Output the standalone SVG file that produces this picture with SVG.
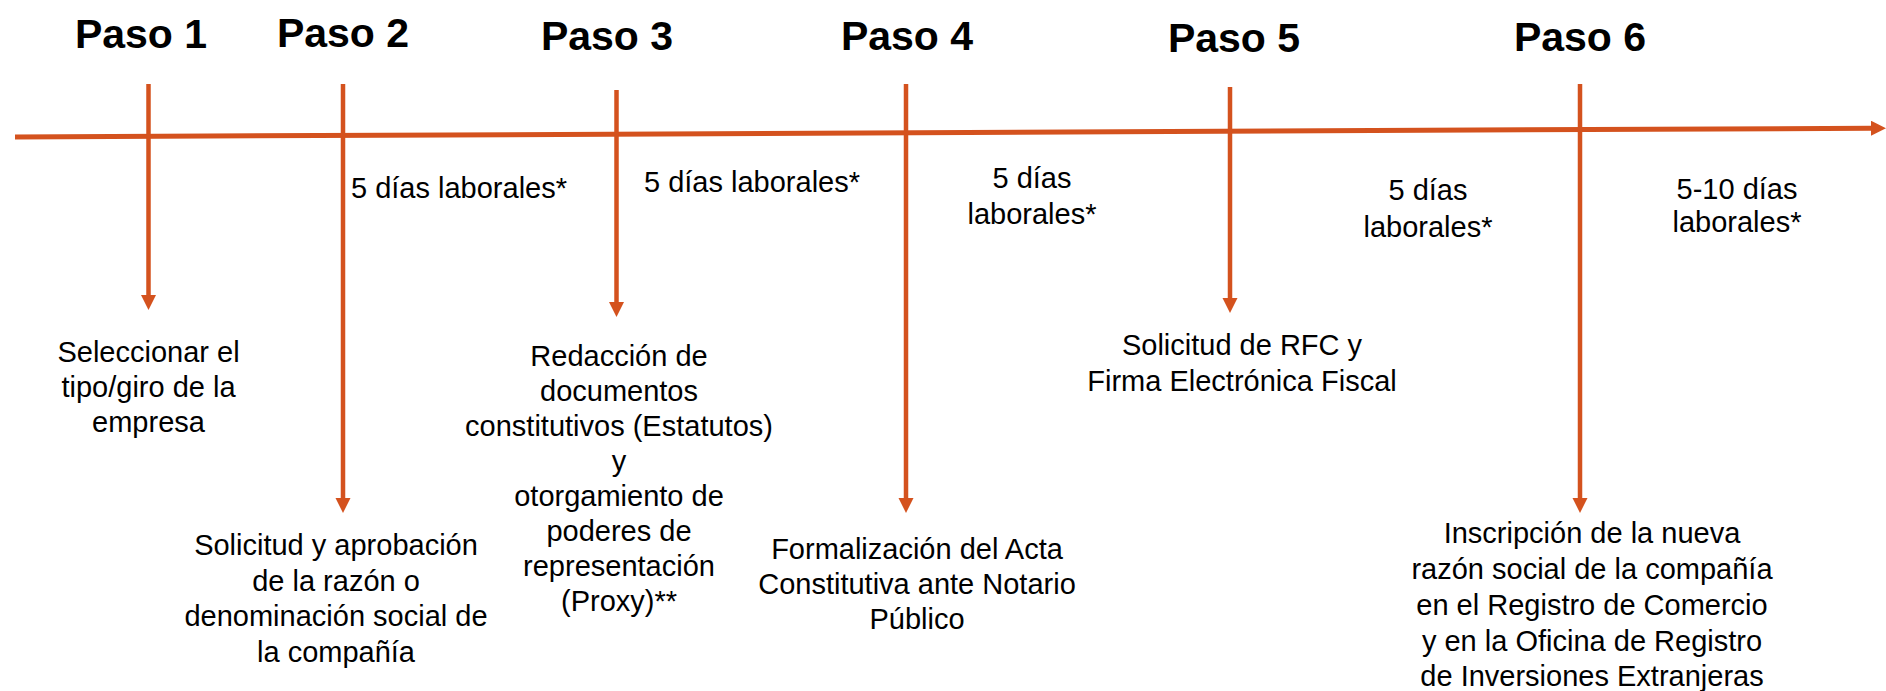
<svg xmlns="http://www.w3.org/2000/svg" width="1886" height="691" viewBox="0 0 1886 691">
<style>
text{font-family:"Liberation Sans",Arial,sans-serif;fill:#000}
.t{font-size:41px;font-weight:bold;text-anchor:middle}
.b{font-size:29px;text-anchor:middle}
.ln{stroke:#D4521E;fill:none}
</style>
<defs>
<marker id="ah" markerUnits="userSpaceOnUse" markerWidth="16" markerHeight="16" refX="1" refY="7.5" orient="auto">
<path d="M0,0 L15,7.5 L0,15 Z" fill="#D4521E"/>
</marker>
</defs>
<rect width="1886" height="691" fill="#fff"/>
<g id="connectors">
<line class="ln" x1="15" y1="137" x2="1872" y2="128.2" stroke-width="5" marker-end="url(#ah)"/>
<line class="ln" x1="148.5" y1="84" x2="148.5" y2="296" stroke-width="4.5" marker-end="url(#ah)"/>
<line class="ln" x1="343" y1="84" x2="343" y2="499" stroke-width="4.5" marker-end="url(#ah)"/>
<line class="ln" x1="616.5" y1="90" x2="616.5" y2="303" stroke-width="4.5" marker-end="url(#ah)"/>
<line class="ln" x1="906" y1="84" x2="906" y2="499" stroke-width="4.5" marker-end="url(#ah)"/>
<line class="ln" x1="1230" y1="87" x2="1230" y2="299" stroke-width="4.5" marker-end="url(#ah)"/>
<line class="ln" x1="1580" y1="84" x2="1580" y2="499" stroke-width="4.5" marker-end="url(#ah)"/>
</g>
<g id="step1">
<text class="t" x="141" y="48">Paso 1</text>
<text class="b"><tspan x="148.5" y="362">Seleccionar el</tspan><tspan x="148.5" y="397">tipo/giro de la</tspan><tspan x="148.5" y="432">empresa</tspan></text>
</g>
<g id="step2">
<text class="t" x="343" y="47">Paso 2</text>
<text class="b"><tspan x="336" y="555">Solicitud y aprobación</tspan><tspan x="336" y="591">de la razón o</tspan><tspan x="336" y="626">denominación social de</tspan><tspan x="336" y="662">la compañía</tspan></text>
</g>
<g id="dur2">
<text class="b" x="459" y="198">5 días laborales*</text>
</g>
<g id="step3">
<text class="t" x="607" y="50">Paso 3</text>
<text class="b"><tspan x="619" y="366">Redacción de</tspan><tspan x="619" y="401">documentos</tspan><tspan x="619" y="436">constitutivos (Estatutos)</tspan><tspan x="619" y="471">y</tspan><tspan x="619" y="506">otorgamiento de</tspan><tspan x="619" y="541">poderes de</tspan><tspan x="619" y="576">representación</tspan><tspan x="619" y="611">(Proxy)**</tspan></text>
</g>
<g id="dur3">
<text class="b" x="752" y="192">5 días laborales*</text>
</g>
<g id="step4">
<text class="t" x="907" y="50">Paso 4</text>
<text class="b"><tspan x="917" y="559">Formalización del Acta</tspan><tspan x="917" y="594">Constitutiva ante Notario</tspan><tspan x="917" y="629">Público</tspan></text>
</g>
<g id="dur4">
<text class="b"><tspan x="1032" y="188">5 días</tspan><tspan x="1032" y="224">laborales*</tspan></text>
</g>
<g id="step5">
<text class="t" x="1234" y="52">Paso 5</text>
<text class="b"><tspan x="1242" y="355">Solicitud de RFC y</tspan><tspan x="1242" y="391">Firma Electrónica Fiscal</tspan></text>
</g>
<g id="dur5">
<text class="b"><tspan x="1428" y="200">5 días</tspan><tspan x="1428" y="237">laborales*</tspan></text>
</g>
<g id="step6">
<text class="t" x="1580" y="51">Paso 6</text>
<text class="b"><tspan x="1592" y="543">Inscripción de la nueva</tspan><tspan x="1592" y="579">razón social de la compañía</tspan><tspan x="1592" y="615">en el Registro de Comercio</tspan><tspan x="1592" y="651">y en la Oficina de Registro</tspan><tspan x="1592" y="686">de Inversiones Extranjeras</tspan></text>
</g>
<g id="dur6">
<text class="b"><tspan x="1737" y="199">5-10 días</tspan><tspan x="1737" y="232">laborales*</tspan></text>
</g>
</svg>
